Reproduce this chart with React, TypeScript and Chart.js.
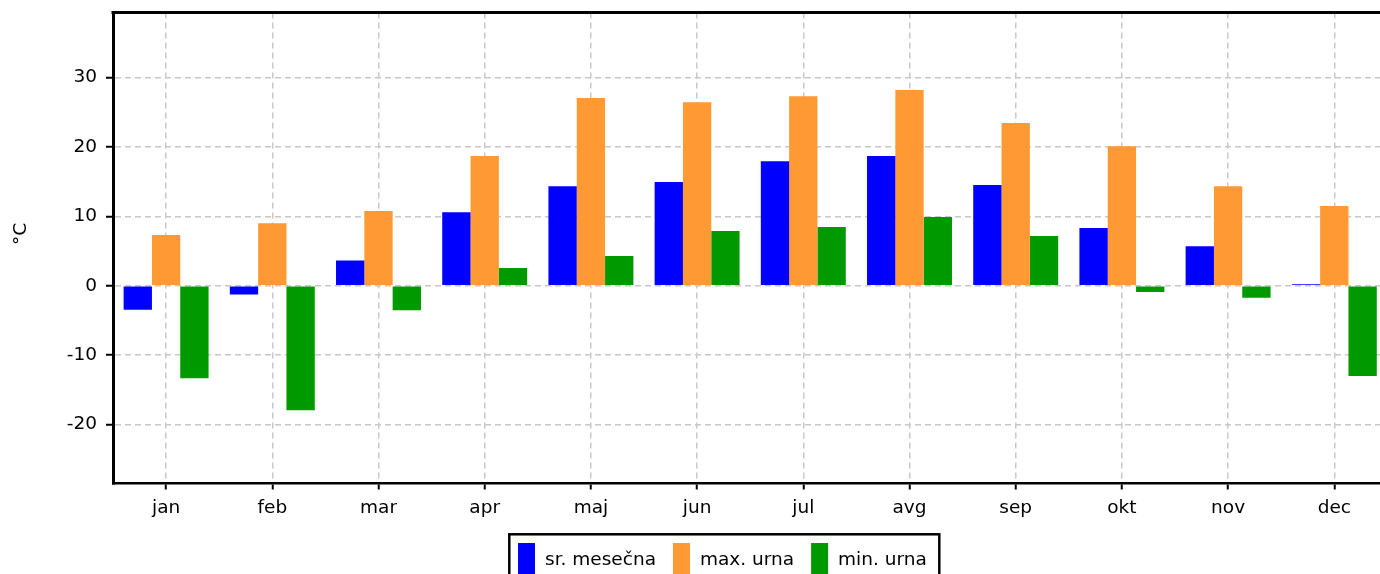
import React, { useEffect, useRef } from "react";
import { Chart, registerables } from "chart.js";

Chart.register(...registerables);

const months = ["jan", "feb", "mar", "apr", "maj", "jun", "jul", "avg", "sep", "okt", "nov", "dec"];
const srMesecna = [-3.45, -1.25, 3.65, 10.6, 14.35, 14.95, 17.95, 18.7, 14.5, 8.3, 5.7, 0.2];
const maxUrna = [7.3, 9.0, 10.75, 18.7, 27.05, 26.45, 27.3, 28.2, 23.45, 20.1, 14.35, 11.5];
const minUrna = [-13.35, -17.95, -3.55, 2.55, 4.3, 7.9, 8.45, 9.9, 7.15, -0.9, -1.75, -13.0];
const yTicks = [-20, -10, 0, 10, 20, 30];
const seriesLabels = ["sr. mesečna", "max. urna", "min. urna"];
const seriesColors = ["#0000ff", "#ff9933", "#009900"];
const yTitle = "°C";

const FONT = '"DejaVu Sans", Verdana, sans-serif';
const FS = 18.5;

export default function App() {
  const ref = useRef<HTMLCanvasElement | null>(null);

  useEffect(() => {
    if (!ref.current) return;
    const deco = {
      id: "deco",
      afterDraw(chart: any) {
        const ctx = chart.ctx;
        const a = chart.chartArea;
        ctx.save();
        // top border
        ctx.strokeStyle = "#000";
        ctx.lineWidth = 3;
        ctx.beginPath();
        ctx.moveTo(a.left - 1.5, a.top);
        ctx.lineTo(a.right + 2, a.top);
        ctx.stroke();
        // y axis title
        ctx.fillStyle = "#000";
        ctx.font = FS + "px " + FONT;
        ctx.save();
        ctx.translate(21, 234);
        ctx.rotate(-Math.PI / 2);
        ctx.textAlign = "center";
        ctx.textBaseline = "middle";
        ctx.fillText(yTitle, 0, 0);
        ctx.restore();
        // legend
        ctx.textAlign = "left";
        ctx.textBaseline = "alphabetic";
        let x = 518;
        seriesLabels.forEach((lbl, i) => {
          ctx.fillStyle = seriesColors[i];
          ctx.fillRect(x, 543, 17, 45);
          x += 27;
          ctx.fillStyle = "#000";
          ctx.fillText(lbl, x, 565);
          x += ctx.measureText(lbl).width + 17;
        });
        ctx.strokeStyle = "#000";
        ctx.lineWidth = 2.5;
        ctx.strokeRect(509.3, 534.3, 430, 80);
        ctx.restore();
      },
    };

    const chart = new Chart(ref.current, {
      type: "bar",
      data: {
        labels: months,
        datasets: [
          { label: seriesLabels[0], data: srMesecna, backgroundColor: seriesColors[0] },
          { label: seriesLabels[1], data: maxUrna, backgroundColor: seriesColors[1] },
          { label: seriesLabels[2], data: minUrna, backgroundColor: seriesColors[2] },
        ],
      },
      options: {
        responsive: false,
        animation: false,
        devicePixelRatio: 1,
        layout: { padding: { left: 0, top: 12.5, right: 12.6, bottom: 76.5 } },
        datasets: { bar: { categoryPercentage: 0.8, barPercentage: 1.0, borderWidth: 0 } },
        plugins: { legend: { display: false }, tooltip: { enabled: false } },
        font: { family: FONT, size: FS },
        color: "#000",
        scales: {
          x: {
            offset: true,
            afterFit: (s: any) => {
              s.height = 40;
              s.paddingLeft = 0;
              s.paddingRight = 0;
            },
            grid: {
              offset: false,
              color: "#c8c8c8",
              lineWidth: 1.5,
              tickColor: "#000",
              tickWidth: 2,
              tickLength: 6,
            },
            border: { display: true, color: "#000", width: 2.5, dash: [6, 4] },
            ticks: { color: "#000", padding: 8, font: { family: FONT, size: FS }, maxRotation: 0 },
          },
          y: {
            min: -28.5,
            max: 39.37,
            afterFit: (s: any) => {
              s.width = 113;
              s.paddingTop = 0;
              s.paddingBottom = 0;
            },
            afterBuildTicks: (s: any) => {
              s.ticks = yTicks.map((v) => ({ value: v }));
            },
            grid: {
              color: "#c8c8c8",
              lineWidth: 1.5,
              tickColor: "#000",
              tickWidth: 2,
              tickLength: 7,
            },
            border: { display: true, color: "#000", width: 3, dash: [6, 4] },
            ticks: { color: "#000", padding: 9, font: { family: FONT, size: FS } },
          },
        },
      },
      plugins: [deco],
    } as any);
    return () => chart.destroy();
  }, []);

  return (
    <div
      style={{
        position: "fixed",
        left: 0,
        top: 0,
        width: 1380,
        height: 574,
        overflow: "hidden",
        background: "#fff",
      }}
    >
      <canvas ref={ref} width={1400} height={600} style={{ display: "block", width: 1400, height: 600 }} />
    </div>
  );
}
